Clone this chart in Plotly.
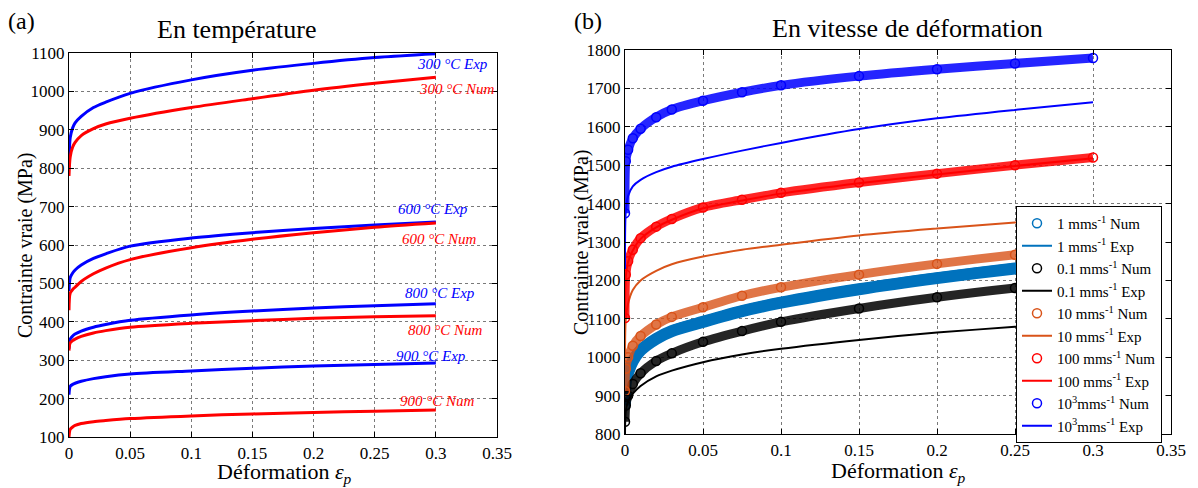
import plotly.graph_objects as go

# ---------------- data: left panel (temperature) ----------------
strain_T = [0, 0.001, 0.003, 0.005, 0.01, 0.02, 0.03, 0.05, 0.1, 0.15, 0.2, 0.25, 0.3]
s300_exp = [800, 880, 905, 918, 935, 958, 972, 995, 1030, 1055, 1073, 1088, 1098]
s300_num = [780, 830, 855, 867, 885, 903, 915, 930, 958, 981, 1003, 1021, 1037]
s600_exp = [480, 515, 527, 535, 548, 565, 577, 597, 618, 632, 643, 652, 660]
s600_num = [430, 475, 484, 490, 505, 525, 540, 562, 593, 615, 632, 646, 657]
s800_exp = [330, 355, 363, 368, 376, 386, 393, 404, 418, 428, 436, 442, 447]
s800_num = [325, 345, 351, 355, 362, 371, 377, 386, 396, 403, 409, 413, 416]
s900_exp = [210, 232, 237, 240, 245, 252, 257, 264, 272, 279, 285, 289, 293]
s900_num = [100, 120, 126, 130, 135, 140, 143, 148, 155, 160, 164, 167, 170]

labels_T = ["300 °C Exp", "300 °C Num", "600 °C Exp", "600 °C Num",
            "800 °C Exp", "800 °C Num", "900 °C Exp", "900 °C Num"]
label_x_T = [0.314, 0.317, 0.298, 0.303, 0.303, 0.308, 0.296, 0.301]
label_y_T = [1071, 1006, 694, 616, 475, 379, 311, 194]

# ---------------- data: right panel (strain rate) ----------------
strain_V = [0, 0.0005, 0.002, 0.005, 0.01, 0.02, 0.03, 0.05, 0.075, 0.1, 0.15, 0.2, 0.25, 0.3]
v1_num = [874, 935, 960, 990, 1018, 1048, 1068, 1092, 1120, 1142, 1177, 1206, 1231, 1252]
v1_exp = [880, 945, 972, 1002, 1030, 1060, 1080, 1104, 1132, 1154, 1189, 1218, 1243, 1264]
v01_num = [832, 874, 900, 930, 958, 990, 1010, 1040, 1068, 1092, 1127, 1156, 1180, 1200]
v01_exp = [800, 860, 885, 905, 925, 950, 965, 987, 1007, 1022, 1045, 1064, 1079, 1092]
v10_num = [912, 970, 1000, 1030, 1055, 1085, 1105, 1130, 1160, 1182, 1215, 1243, 1267, 1288]
v10_exp = [1000, 1100, 1140, 1175, 1200, 1225, 1242, 1262, 1280, 1293, 1317, 1335, 1351, 1366]
v100_num = [1102, 1215, 1250, 1280, 1310, 1340, 1360, 1390, 1410, 1428, 1455, 1478, 1500, 1520]
v100_exp = [1100, 1210, 1248, 1278, 1308, 1338, 1358, 1388, 1408, 1426, 1453, 1476, 1498, 1518]
v1000_num = [1375, 1510, 1540, 1570, 1595, 1625, 1645, 1668, 1690, 1708, 1732, 1750, 1765, 1779]
v1000_exp = [1230, 1380, 1420, 1445, 1462, 1482, 1496, 1516, 1538, 1558, 1594, 1622, 1644, 1664]

x_ticks = [0, 0.05, 0.1, 0.15, 0.2, 0.25, 0.3, 0.35]
x_ticktext = ["0", "0.05", "0.1", "0.15", "0.2", "0.25", "0.3", "0.35"]
yT_ticks = list(range(100, 1101, 100))
yV_ticks = list(range(800, 1801, 100))

FONT = "Liberation Serif"
BLUE = "#0000FF"
RED = "#FF0000"

# page body adds an 8px margin: lay the figure out in window pixels minus that offset
OFF = 8
W, H = 1190, 480


def xp(px):
    return (px - OFF) / W


def yp(py):
    return 1 - (py - OFF) / H


fig = go.Figure()

# left panel curves
left_series = [(s300_exp, BLUE), (s300_num, RED), (s600_exp, BLUE), (s600_num, RED),
               (s800_exp, BLUE), (s800_num, RED), (s900_exp, BLUE), (s900_num, RED)]
for ys, col in left_series:
    fig.add_trace(go.Scatter(x=strain_T, y=ys, mode="lines", xaxis="x", yaxis="y",
                             line=dict(color=col, width=3, shape="spline", smoothing=0.8),
                             showlegend=False, hoverinfo="skip"))

# right panel
right_series = [
    ("1 mms<sup>-1</sup> Num", "1 mms<sup>-1</sup> Exp", v1_num, v1_exp, "#0072BD", 1.0, 12),
    ("0.1 mms<sup>-1</sup> Num", "0.1 mms<sup>-1</sup> Exp", v01_num, v01_exp, "#000000", 0.85, 9),
    ("10 mms<sup>-1</sup> Num", "10 mms<sup>-1</sup> Exp", v10_num, v10_exp, "#D95319", 0.8, 9),
    ("100 mms<sup>-1</sup> Num", "100 mms<sup>-1</sup> Exp", v100_num, v100_exp, RED, 0.85, 9),
    ("10<sup>3</sup>mms<sup>-1</sup> Num", "10<sup>3</sup>mms<sup>-1</sup> Exp", v1000_num, v1000_exp, BLUE, 0.85, 9),
]
for name_n, name_e, yn, ye, col, op, bw in right_series:
    # dense circle band
    fig.add_trace(go.Scatter(x=strain_V, y=yn, mode="lines", xaxis="x2", yaxis="y2",
                             line=dict(color=col, width=bw, shape="spline", smoothing=0.8),
                             opacity=op, showlegend=False, hoverinfo="skip"))
    fig.add_trace(go.Scatter(x=strain_V, y=yn, mode="markers", xaxis="x2", yaxis="y2",
                             name=name_n,
                             marker=dict(symbol="circle-open", size=9, color=col,
                                         line=dict(width=1.5, color=col))))
    fig.add_trace(go.Scatter(x=strain_V, y=ye, mode="lines", xaxis="x2", yaxis="y2",
                             name=name_e,
                             line=dict(color=col, width=2, shape="spline", smoothing=0.8)))

axis_common = dict(showline=True, linecolor="black", linewidth=1.2, mirror="ticks",
                   ticks="inside", ticklen=5, tickcolor="black", automargin=False,
                   showgrid=True, gridcolor="#7a7a7a", griddash="dot", gridwidth=1,
                   zeroline=False, tickfont=dict(family=FONT, size=17, color="black"))

fig.update_layout(
    width=W, height=H,
    margin=dict(l=0, r=0, t=0, b=0, pad=0, autoexpand=False),
    paper_bgcolor="white", plot_bgcolor="white",
    font=dict(family=FONT, color="black"),
    xaxis=dict(domain=[xp(69), xp(497)], range=[0, 0.35], tickvals=x_ticks,
               ticktext=x_ticktext, anchor="y", **axis_common),
    yaxis=dict(domain=[yp(437), yp(53)], range=[100, 1100], tickvals=yT_ticks,
               anchor="x", **axis_common),
    xaxis2=dict(domain=[xp(625), xp(1171)], range=[0, 0.35], tickvals=x_ticks,
                ticktext=x_ticktext, anchor="y2", **axis_common),
    yaxis2=dict(domain=[yp(434), yp(50)], range=[800, 1800], tickvals=yV_ticks,
                anchor="x2", **axis_common),
    legend=dict(x=xp(1016), y=yp(206), xanchor="left", yanchor="top",
                bgcolor="white", bordercolor="black", borderwidth=1,
                font=dict(family=FONT, size=15, color="black"),
                tracegroupgap=0, itemwidth=30),
    showlegend=True,
)

annots = []
for txt, lx, ly, col in zip(labels_T, label_x_T, label_y_T,
                            [BLUE, RED, BLUE, RED, BLUE, RED, BLUE, RED]):
    annots.append(dict(x=lx, y=ly, xref="x", yref="y", text="<i>" + txt + "</i>",
                       xanchor="center", yanchor="middle",
                       showarrow=False, font=dict(family=FONT, size=15, color=col)))


def pann(px, py, text, size, angle=0):
    return dict(x=xp(px), y=yp(py), xref="paper", yref="paper", text=text,
                xanchor="center", yanchor="middle", textangle=angle,
                showarrow=False, font=dict(family=FONT, size=size, color="black"))


annots += [
    pann(237, 30, "En température", 26),
    pann(907, 29, "En vitesse de déformation", 26),
    pann(21, 21, "(a)", 24),
    pann(588, 21, "(b)", 24),
    pann(284, 473, "Déformation <i>ε</i><sub><i>p</i></sub>", 22),
    pann(898, 472, "Déformation <i>ε</i><sub><i>p</i></sub>", 22),
    pann(25, 245, "Contrainte vraie (MPa)", 20, -90),
    pann(581, 242, "Contrainte vraie (MPa)", 20, -90),
]
fig.update_layout(annotations=annots)

fig.write_html("out.html")
